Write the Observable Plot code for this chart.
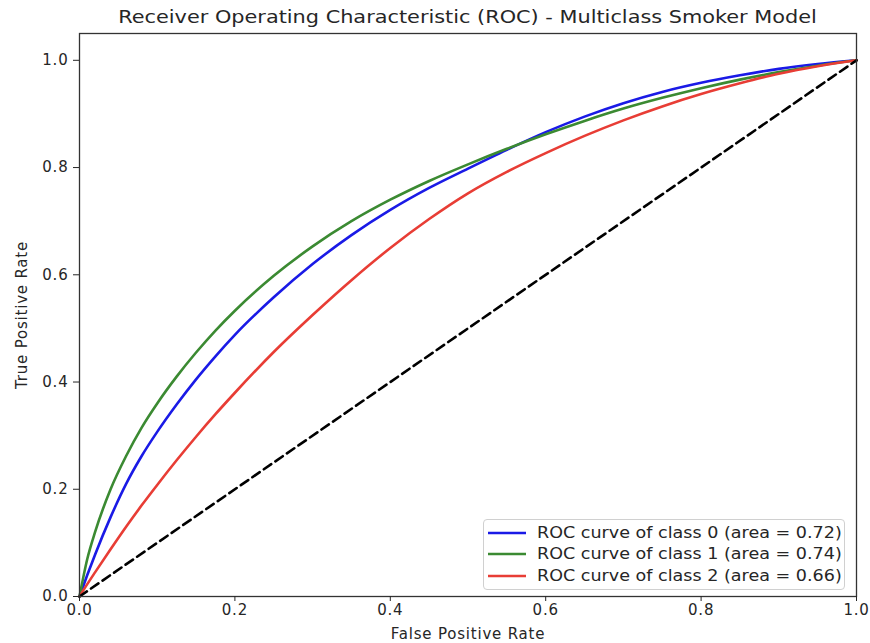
<!DOCTYPE html>
<html>
<head>
<meta charset="utf-8">
<script src="https://cdn.jsdelivr.net/npm/d3@7"></script>
<script src="https://cdn.jsdelivr.net/npm/@observablehq/plot@0.6"></script>
<style>
  html, body { margin: 0; padding: 0; background: #fff; }
  body { width: 870px; height: 643px; position: relative; overflow: hidden; font-family: "DejaVu Sans", sans-serif; color: #262626; }
  #title { position: absolute; left: 79px; width: 777px; top: 7px; text-align: center; font-size: 17.5px; white-space: nowrap; transform: scaleX(1.19); transform-origin: 50% 50%; }
  #chart { position: absolute; left: 0; top: 28px; }
  #legend { position: absolute; left: 483px; top: 519px; width: 362px; height: 71px; border: 1px solid #d0d0d0; border-radius: 4px; background: rgba(255,255,255,0.85); box-sizing: border-box; padding-top: 2px; }
  .row { display: flex; align-items: center; height: 21.5px; font-size: 15px; white-space: nowrap; }
  .row svg { margin-left: 4px; margin-right: 11px; flex: none; }
  .row span { display: inline-block; transform: scaleX(1.17); transform-origin: 0 50%; }
</style>
</head>
<body>
<div id="title"></div>
<div id="chart"></div>
<div id="legend"></div>
<script>
// ---- data ----
const chartTitle = "Receiver Operating Characteristic (ROC) - Multiclass Smoker Model";
const xLabel = "False Positive Rate";
const yLabel = "True Positive Rate";
const fpr = [0, 0.01, 0.02, 0.04, 0.06, 0.08, 0.10, 0.125, 0.15, 0.175, 0.20, 0.25, 0.30, 0.35, 0.40, 0.45, 0.50, 0.55, 0.60, 0.65, 0.70, 0.75, 0.80, 0.85, 0.90, 0.95, 1.0];
const tprClass0 = [0, 0.040, 0.078, 0.148, 0.210, 0.262, 0.307, 0.358, 0.405, 0.448, 0.488, 0.558, 0.620, 0.674, 0.721, 0.762, 0.798, 0.833, 0.866, 0.895, 0.920, 0.941, 0.958, 0.972, 0.984, 0.993, 1];
const tprClass1 = [0, 0.070, 0.120, 0.200, 0.262, 0.315, 0.360, 0.410, 0.455, 0.496, 0.533, 0.598, 0.653, 0.700, 0.740, 0.775, 0.806, 0.835, 0.862, 0.887, 0.910, 0.930, 0.948, 0.964, 0.978, 0.990, 1];
const tprClass2 = [0, 0.023, 0.045, 0.088, 0.130, 0.170, 0.208, 0.254, 0.298, 0.340, 0.380, 0.456, 0.525, 0.590, 0.650, 0.704, 0.752, 0.792, 0.827, 0.859, 0.888, 0.914, 0.937, 0.957, 0.975, 0.989, 1];
const classNames = ["class 0", "class 1", "class 2"];
const aucValues = [0.72, 0.74, 0.66];
const classColors = ["#1a1ae6", "#3b8a32", "#e83d35"];
const chanceX = [0, 1];
const chanceY = [0, 1];
const xTicks = [0, 0.2, 0.4, 0.6, 0.8, 1.0];
const yTicks = [0, 0.2, 0.4, 0.6, 0.8, 1.0];

// ---- build tables ----
const series = [tprClass0, tprClass1, tprClass2];
const rows = series.flatMap((tpr, i) => fpr.map((f, j) => ({fpr: f, tpr: tpr[j], cls: classNames[i]})));
const chance = chanceX.map((x, i) => ({x, y: chanceY[i]}));

document.getElementById("title").textContent = chartTitle;

const plot = Plot.plot({
  width: 870,
  height: 615,
  marginLeft: 79,
  marginRight: 14,
  marginTop: 5,
  marginBottom: 47,
  style: {fontFamily: "DejaVu Sans, sans-serif", fontSize: "15px", color: "#262626", background: "white", letterSpacing: "0.8px"},
  x: {domain: [0, 1], ticks: xTicks, tickFormat: d3.format(".1f"), label: null},
  y: {domain: [0, 1.05], ticks: yTicks, tickFormat: d3.format(".1f"), label: null},
  color: {domain: classNames, range: classColors},
  marks: [
    Plot.line(rows, {x: "fpr", y: "tpr", z: "cls", stroke: "cls", strokeWidth: 2.6, curve: "monotone-x"}),
    Plot.line(chance, {x: "x", y: "y", stroke: "black", strokeWidth: 2.6, strokeDasharray: "9,5"}),
    Plot.frame({stroke: "#333", strokeWidth: 1.3}),
    Plot.axisX({ticks: xTicks, tickFormat: d3.format(".1f"), tickSize: 5, tickPadding: 3, fontSize: 15, label: null}),
    Plot.axisY({ticks: yTicks, tickFormat: d3.format(".1f"), tickSize: 6, tickPadding: 5, fontSize: 15, label: null}),
    Plot.text([xLabel], {frameAnchor: "bottom", textAnchor: "middle", dy: 42, text: d => d, fontSize: 15}),
    Plot.text([yLabel], {frameAnchor: "left", textAnchor: "middle", dx: -57, rotate: -90, text: d => d, fontSize: 15})
  ]
});
document.getElementById("chart").appendChild(plot);

// ---- legend ----
const legend = document.getElementById("legend");
classNames.forEach((c, i) => {
  const row = document.createElement("div");
  row.className = "row";
  row.innerHTML = `<svg width="38" height="6"><line x1="0" y1="3" x2="38" y2="3" stroke="${classColors[i]}" stroke-width="2.6"/></svg><span>ROC curve of ${c} (area = ${aucValues[i].toFixed(2)})</span>`;
  legend.appendChild(row);
});
</script>
</body>
</html>
